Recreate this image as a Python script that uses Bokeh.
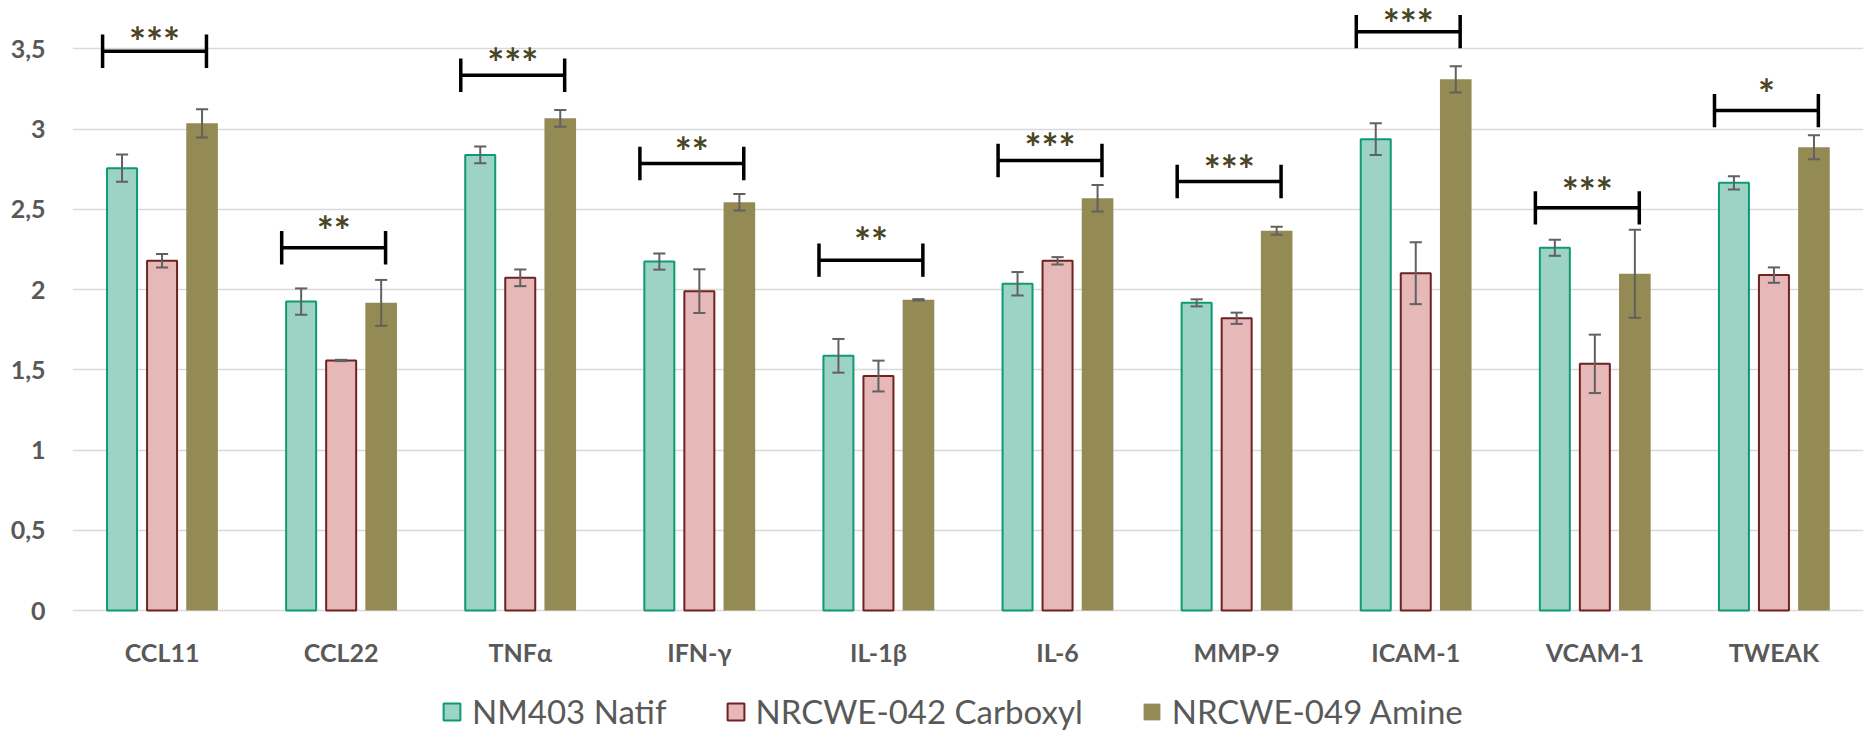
from bokeh.plotting import figure
from bokeh.models import Range1d, FixedTicker, Legend, LegendItem
from bokeh.core.properties import value
from bokeh.embed import file_html
from bokeh.resources import INLINE

# ---------------- data ----------------
categories = ["CCL11", "CCL22", "TNFα", "IFN-γ", "IL-1β", "IL-6", "MMP-9", "ICAM-1", "VCAM-1", "TWEAK"]
series_names = ["NM403 Natif", "NRCWE-042 Carboxyl", "NRCWE-049 Amine"]

natif = [2.756, 1.925, 2.839, 2.174, 1.587, 2.036, 1.917, 2.937, 2.260, 2.665]
natif_err = [0.085, 0.082, 0.052, 0.050, 0.105, 0.073, 0.022, 0.099, 0.050, 0.041]

carboxyl = [2.179, 1.558, 2.073, 1.990, 1.461, 2.179, 1.821, 2.102, 1.537, 2.090]
carboxyl_err = [0.042, 0.004, 0.052, 0.136, 0.096, 0.023, 0.035, 0.193, 0.182, 0.048]

amine = [3.036, 1.917, 3.067, 2.544, 1.936, 2.569, 2.366, 3.310, 2.098, 2.887]
amine_err = [0.088, 0.143, 0.052, 0.051, 0.004, 0.082, 0.025, 0.082, 0.274, 0.075]

significance = ["***", "**", "***", "**", "**", "***", "***", "***", "***", "*"]
bracket_levels = [3.485, 2.260, 3.335, 2.785, 2.183, 2.804, 2.673, 3.607, 2.509, 3.115]
star_levels = [3.576, 2.396, 3.440, 2.891, 2.327, 2.916, 2.776, 3.685, 2.642, 3.250]

y_ticks = [0, 0.5, 1, 1.5, 2, 2.5, 3, 3.5]
y_tick_labels = ["0", "0,5", "1", "1,5", "2", "2,5", "3", "3,5"]

# ---------------- figure ----------------
W, H = 1866, 731
p = figure(width=W, height=H, output_backend="svg", toolbar_location=None,
           x_range=Range1d(-0.5, 9.5), y_range=Range1d(-0.7539, 3.801),
           x_axis_location=None,
           min_border_left=72, min_border_right=3, min_border_top=0,
           min_border_bottom=0)
p.outline_line_color = None
p.background_fill_color = "white"
p.border_fill_color = "white"

TEXT = "#595959"
FONT = "Lato"

# grid (horizontal only, at the value ticks)
for g in p.grid:
    if g.dimension == 0:
        g.grid_line_color = None
        g.visible = False
    else:
        g.grid_line_color = "#D9D9D9"
        g.grid_line_width = 1.5
        g.ticker = FixedTicker(ticks=y_ticks)

# value axis
p.yaxis.ticker = FixedTicker(ticks=y_ticks)
p.yaxis.major_label_overrides = {t: l for t, l in zip(y_ticks, y_tick_labels)}
p.yaxis.axis_line_color = None
p.yaxis.major_tick_line_color = None
p.yaxis.minor_tick_line_color = None
p.yaxis.major_tick_out = 0
p.yaxis.major_tick_in = 0
p.yaxis.major_label_text_font = FONT
p.yaxis.major_label_text_font_style = "bold"
p.yaxis.major_label_text_color = TEXT
p.yaxis.major_label_text_font_size = "25px"
p.yaxis.major_label_standoff = 27

# category labels under the bars
p.text(x=list(range(len(categories))), y=[0] * len(categories), text=categories,
       text_align="center", text_baseline="middle", y_offset=41,
       text_font=value(FONT), text_font_style="bold", text_font_size="25px",
       text_color=TEXT)

# bars + error bars
step = 0.2234
cap = 0.034
specs = [
    (natif, natif_err, "#9DD3C4", "#0E9A72", 2, -step, 0.1675),
    (carboxyl, carboxyl_err, "#E6B8B7", "#6E2222", 2, 0.0, 0.1675),
    (amine, amine_err, "#948A54", None, 0, step, 0.1765),
]
renderers = []
for vals, errs, fill, line, lw, off, bw in specs:
    xs = [i + off for i in range(len(categories))]
    r = p.vbar(x=xs, top=vals, bottom=0, width=bw, fill_color=fill,
               line_color=line, line_width=lw)
    renderers.append(r)
    lo = [v - e for v, e in zip(vals, errs)]
    hi = [v + e for v, e in zip(vals, errs)]
    p.segment(x0=xs, y0=lo, x1=xs, y1=hi, line_color="#616161", line_width=2)
    p.segment(x0=[x - cap for x in xs], y0=hi, x1=[x + cap for x in xs], y1=hi,
              line_color="#616161", line_width=2)
    p.segment(x0=[x - cap for x in xs], y0=lo, x1=[x + cap for x in xs], y1=lo,
              line_color="#616161", line_width=2)

# significance brackets
left_off, right_off, tick_h = -0.332, 0.248, 0.104
bx0 = [i + left_off for i in range(len(categories))]
bx1 = [i + right_off for i in range(len(categories))]
p.segment(x0=bx0, y0=bracket_levels, x1=bx1, y1=bracket_levels,
          line_color="black", line_width=3.5)
p.segment(x0=bx0, y0=[b - tick_h for b in bracket_levels], x1=bx0,
          y1=[b + tick_h for b in bracket_levels], line_color="black", line_width=3.5)
p.segment(x0=bx1, y0=[b - tick_h for b in bracket_levels], x1=bx1,
          y1=[b + tick_h for b in bracket_levels], line_color="black", line_width=3.5)
p.text(x=[(a + b) / 2 for a, b in zip(bx0, bx1)], y=star_levels, text=significance,
       text_align="center", text_baseline="middle", y_offset=5,
       text_font=value(FONT), text_font_style="bold", text_font_size="40px",
       text_color="#4A4526")

# legend
legend = Legend(items=[LegendItem(label=n, renderers=[r]) for n, r in zip(series_names, renderers)],
                orientation="horizontal", location=(369, 0),
                glyph_width=21, glyph_height=21, label_standoff=10, spacing=58,
                padding=0, margin=0, border_line_color=None, background_fill_alpha=0,
                label_text_font=FONT, label_text_font_size="33px", label_text_color=TEXT)
p.add_layout(legend)

open("out.html", "w").write(file_html(p, INLINE))
